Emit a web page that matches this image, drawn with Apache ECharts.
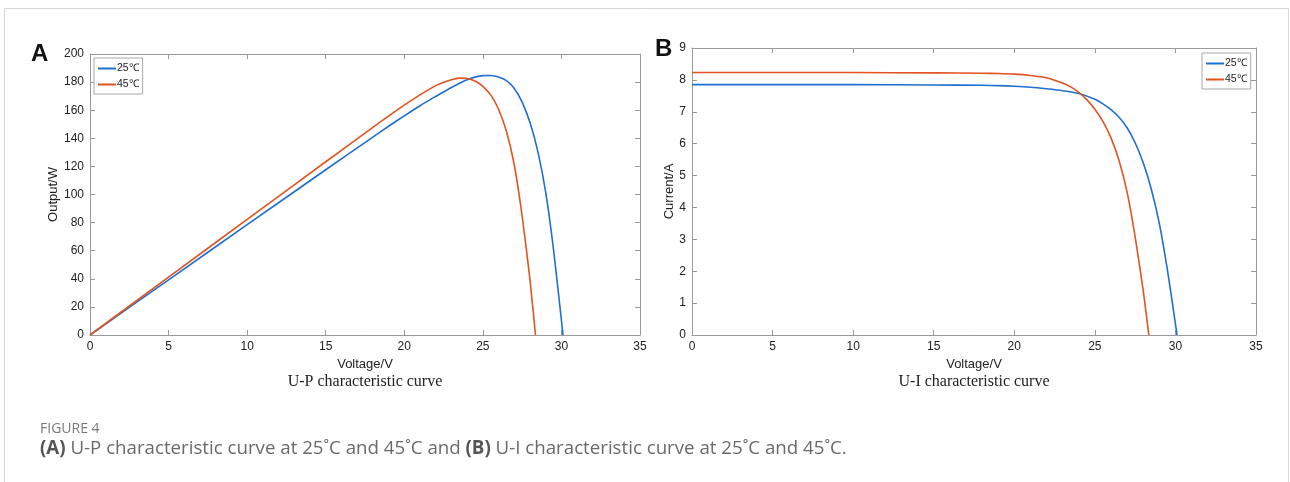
<!DOCTYPE html>
<html>
<head>
<meta charset="utf-8">
<script src="https://cdn.jsdelivr.net/npm/echarts@6/dist/echarts.min.js"></script>
<style>
  html, body { margin: 0; padding: 0; background: #fff; }
  #chart { width: 1290px; height: 482px; }
</style>
</head>
<body>
<div id="chart"></div>
<script>
// values
const seriesNames = ['25℃', '45℃']

const voltage25 = [0, 5, 10, 15, 18, 19, 20, 21, 22, 23, 24, 25, 25.5, 26, 26.5, 27, 27.5, 28, 28.5, 29, 29.5, 30, 30.1]
const current25 = [7.85, 7.85, 7.85, 7.84, 7.83, 7.82, 7.80, 7.77, 7.72, 7.66, 7.57, 7.39, 7.25, 7.07, 6.83, 6.50, 6.03, 5.40, 4.58, 3.50, 2.05, 0.35, 0]
const power25 = [0, 39.3, 78.5, 117.6, 140.9, 148.6, 156.0, 163.2, 169.8, 176.2, 181.7, 184.6, 184.7, 183.6, 181.0, 175.5, 165.8, 151.2, 130.5, 101.5, 60.5, 10.5, 0]

const voltage45 = [0, 5, 10, 15, 18, 19, 20, 21, 22, 23, 23.5, 24, 24.5, 25, 25.5, 26, 26.5, 27, 27.5, 28, 28.35]
const current45 = [8.23, 8.23, 8.23, 8.22, 8.21, 8.20, 8.18, 8.14, 8.07, 7.90, 7.78, 7.61, 7.38, 7.08, 6.70, 6.18, 5.47, 4.48, 3.08, 1.40, 0]
const power45 = [0, 41.2, 82.3, 123.3, 147.8, 155.8, 163.6, 170.9, 177.5, 181.7, 182.8, 182.6, 180.8, 177.0, 170.9, 160.7, 145.0, 121.0, 84.7, 39.2, 0]

const xTicks = { min: 0, max: 35, interval: 5 }
const powerTicks = { min: 0, max: 200, interval: 20 }
const currentTicks = { min: 0, max: 9, interval: 1 }

const blue = '#1f6fd1'
const red = '#e2531f'
const axisGray = '#9a9a9a'
const labelFont = 'Liberation Sans, Arial, sans-serif'

const pairs = (xs, ys) => xs.map((x, i) => [x, ys[i]])

function mainAxis(ticks, extra) {
    return Object.assign({
        type: 'value',
        min: ticks.min,
        max: ticks.max,
        interval: ticks.interval,
        axisLine: { show: true, onZero: false, lineStyle: { color: axisGray, width: 1 } },
        axisTick: { show: true, inside: true, length: 5, lineStyle: { color: axisGray } },
        axisLabel: { color: '#222', fontSize: 12, fontFamily: labelFont, margin: 6 },
        splitLine: { show: false },
        nameTextStyle: { color: '#222', fontSize: 13, fontFamily: labelFont }
    }, extra)
}

function mirrorAxis(ticks, extra) {
    return Object.assign(mainAxis(ticks, {}), { axisLabel: { show: false } }, extra)
}

function legendAt(left, top) {
    return {
        data: seriesNames,
        orient: 'vertical',
        left: left,
        top: top,
        itemWidth: 18,
        itemHeight: 2,
        itemGap: 5,
        padding: [5, 4, 4, 3],
        borderColor: '#a8a8a8',
        borderWidth: 1,
        backgroundColor: '#fff',
        textStyle: { color: '#222', fontSize: 10.5, fontFamily: labelFont, padding: [0, 0, 0, -4] }
    }
}

function lineSeries(name, color, data, xi, yi) {
    return {
        name: name,
        type: 'line',
        xAxisIndex: xi,
        yAxisIndex: yi,
        data: data,
        smooth: 0.2,
        symbol: 'none',
        lineStyle: { color: color, width: 1.6 },
        itemStyle: { color: color },
        z: 3
    }
}

const chart = echarts.init(document.getElementById('chart'))

const option = {
    animation: false,
    backgroundColor: '#fff',
    grid: [
        { left: 90, top: 54, width: 550, height: 281 },
        { left: 692, top: 48, width: 564, height: 287 }
    ],
    xAxis: [
        mainAxis(xTicks, { gridIndex: 0, position: 'bottom', name: 'Voltage/V', nameLocation: 'middle', nameGap: 20 }),
        mirrorAxis(xTicks, { gridIndex: 0, position: 'top' }),
        mainAxis(xTicks, { gridIndex: 1, position: 'bottom', name: 'Voltage/V', nameLocation: 'middle', nameGap: 20 }),
        mirrorAxis(xTicks, { gridIndex: 1, position: 'top' })
    ],
    yAxis: [
        mainAxis(powerTicks, { gridIndex: 0, position: 'left', name: 'Output/W', nameLocation: 'middle', nameGap: 20 }),
        mirrorAxis(powerTicks, { gridIndex: 0, position: 'right' }),
        mainAxis(currentTicks, { gridIndex: 1, position: 'left', name: 'Current/A', nameLocation: 'middle', nameGap: 7 }),
        mirrorAxis(currentTicks, { gridIndex: 1, position: 'right' })
    ],
    legend: [legendAt(94, 58), legendAt(1202, 53)],
    series: [
        lineSeries(seriesNames[0], blue, pairs(voltage25, power25), 0, 0),
        lineSeries(seriesNames[1], red, pairs(voltage45, power45), 0, 0),
        lineSeries(seriesNames[0], blue, pairs(voltage25, current25), 2, 2),
        lineSeries(seriesNames[1], red, pairs(voltage45, current45), 2, 2)
    ],
    graphic: [
        {
            type: 'rect', silent: true,
            shape: { x: 4.5, y: 8.5, width: 1284, height: 490 },
            style: { fill: 'none', stroke: '#d6d6d6', lineWidth: 1 }
        },
        { type: 'text', left: 31, top: 42, style: { text: 'A', font: 'bold 24px Liberation Sans, Arial, sans-serif', fill: '#111' } },
        { type: 'text', left: 655, top: 37, style: { text: 'B', font: 'bold 24px Liberation Sans, Arial, sans-serif', fill: '#111' } },
        {
            type: 'text', x: 365, y: 382,
            style: { text: 'U-P characteristic curve', font: '16px Liberation Serif, Times New Roman, serif', fill: '#222', align: 'center', verticalAlign: 'middle' }
        },
        {
            type: 'text', x: 974, y: 382,
            style: { text: 'U-I characteristic curve', font: '16px Liberation Serif, Times New Roman, serif', fill: '#222', align: 'center', verticalAlign: 'middle' }
        },
        {
            type: 'text', x: 40, y: 429,
            style: { text: 'FIGURE 4', font: '14px Open Sans, sans-serif', fill: '#7a7a7a', verticalAlign: 'middle' }
        },
        {
            type: 'text', x: 40, y: 449,
            style: {
                text: '{b|(A)} U-P characteristic curve at 25˚C and 45˚C and {b|(B)} U-I characteristic curve at 25˚C and 45˚C.',
                font: '18.7px Open Sans, sans-serif',
                fill: '#6a6a6a',
                verticalAlign: 'middle',
                rich: {
                    b: { font: 'bold 18.7px Open Sans, sans-serif', fill: '#555' }
                }
            }
        }
    ]
}

chart.setOption(option)
window.addEventListener('resize', () => chart.resize())
</script>
</body>
</html>
